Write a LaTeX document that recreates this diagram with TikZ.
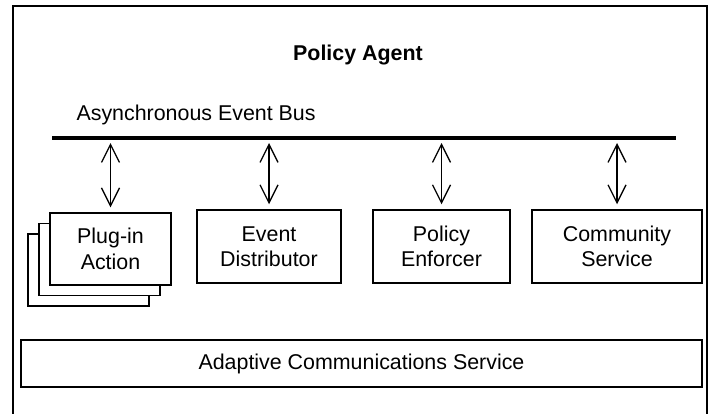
\documentclass[tikz,border=0pt]{standalone}
\usepackage{fontspec}
\setmainfont{Liberation Sans}
\usetikzlibrary{arrows.meta}
\begin{document}
\begin{tikzpicture}[x=1pt,y=-1pt,font=\fontsize{21.4}{25.5}\selectfont,
  box/.style={draw,line width=1.5pt,fill=white,align=center,inner sep=0pt},
  link/.style={{Straight Barb[length=18pt,width=18pt]}-{Straight Barb[length=18pt,width=18pt]},line width=1.3pt}]
\useasboundingbox (0,0) rectangle (715,413);
\draw[line width=2pt] (13,420) -- (13,6) -- (707,6) -- (707,420);
\node[font=\fontsize{21.4}{25.5}\selectfont\bfseries] (title) at (358,55) {Policy Agent};
\node[anchor=west] (buslabel) at (73,115) {Asynchronous Event Bus};
\coordinate (busW) at (52,138);
\coordinate (busE) at (676,138);
\draw[line width=4pt] (busW) -- (busE);
% plug-in stack
\node[box,minimum width=121pt,minimum height=72pt] (plug3) at (88.5,270) {};
\node[box,minimum width=121pt,minimum height=72pt] (plug2) at (99.5,259.5) {};
\node[box,minimum width=121pt,minimum height=72pt] (plug) at (110.5,249) {Plug-in\\Action};
% other components
\node[box,minimum width=144pt,minimum height=73pt] (dist) at (269,246.5) {Event\\Distributor};
\node[box,minimum width=137pt,minimum height=73pt] (enf) at (441.5,246.5) {Policy\\Enforcer};
\node[box,minimum width=170pt,minimum height=73pt] (comm) at (617,246.5) {Community\\Service};
\node[box,minimum width=681pt,minimum height=47pt] (acs) at (361.5,363.5) {Adaptive Communications Service};
\foreach \n in {plug,dist,enf,comm}
  \draw[link,shorten <=5pt,shorten >=5pt] (\n.north |- busW) -- (\n.north);
\end{tikzpicture}
\end{document}
